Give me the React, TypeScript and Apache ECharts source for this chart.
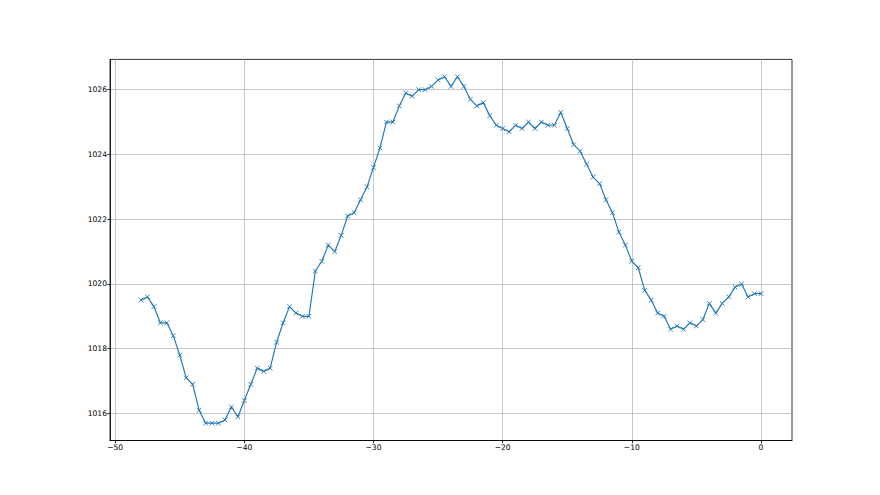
import React, { useEffect, useRef } from "react";
import * as echarts from "echarts";

const xValues = [
  -48, -47.5, -47, -46.5, -46, -45.5, -45, -44.5, -44, -43.5, -43, -42.5, -42, -41.5, -41, -40.5,
  -40, -39.5, -39, -38.5, -38, -37.5, -37, -36.5, -36, -35.5, -35, -34.5, -34, -33.5, -33, -32.5,
  -32, -31.5, -31, -30.5, -30, -29.5, -29, -28.5, -28, -27.5, -27, -26.5, -26, -25.5, -25, -24.5,
  -24, -23.5, -23, -22.5, -22, -21.5, -21, -20.5, -20, -19.5, -19, -18.5, -18, -17.5, -17, -16.5,
  -16, -15.5, -15, -14.5, -14, -13.5, -13, -12.5, -12, -11.5, -11, -10.5, -10, -9.5, -9, -8.5,
  -8, -7.5, -7, -6.5, -6, -5.5, -5, -4.5, -4, -3.5, -3, -2.5, -2, -1.5, -1, -0.5, 0,
];

const yValues = [
  1019.5, 1019.6, 1019.3, 1018.8, 1018.8, 1018.4, 1017.8, 1017.1, 1016.9, 1016.1, 1015.7, 1015.7,
  1015.7, 1015.8, 1016.2, 1015.9,
  1016.4, 1016.9, 1017.4, 1017.3, 1017.4, 1018.2, 1018.8, 1019.3, 1019.1, 1019.0, 1019.0, 1020.4,
  1020.7, 1021.2, 1021.0, 1021.5,
  1022.1, 1022.2, 1022.6, 1023.0, 1023.6, 1024.2, 1025.0, 1025.0, 1025.5, 1025.9, 1025.8, 1026.0,
  1026.0, 1026.1, 1026.3, 1026.4,
  1026.1, 1026.4, 1026.1, 1025.7, 1025.5, 1025.6, 1025.2, 1024.9, 1024.8, 1024.7, 1024.9, 1024.8,
  1025.0, 1024.8, 1025.0, 1024.9,
  1024.9, 1025.3, 1024.8, 1024.3, 1024.1, 1023.7, 1023.3, 1023.1, 1022.6, 1022.2, 1021.6, 1021.2,
  1020.7, 1020.5, 1019.8, 1019.5,
  1019.1, 1019.0, 1018.6, 1018.7, 1018.6, 1018.8, 1018.7, 1018.9, 1019.4, 1019.1, 1019.4, 1019.6,
  1019.9, 1020.0, 1019.6, 1019.7, 1019.7,
];

const xTicks = [-50, -40, -30, -20, -10, 0];
const yTicks = [1016, 1018, 1020, 1022, 1024, 1026];
const xLimits = [-50.4, 2.4];
const yLimits = [1015.165, 1026.935];

const FONT = "DejaVu Sans";
const fmt = (v: number) => String(v).replace("-", "\u2212");

export default function App() {
  const ref = useRef<HTMLDivElement>(null);
  useEffect(() => {
    if (!ref.current) return;
    const chart = echarts.init(ref.current, null, { renderer: "svg" });
    const data = xValues.map((x, i) => [x, yValues[i]]);
    const axisCommon = (ticks: number[]) => ({
      axisLine: { show: true, onZero: false, lineStyle: { color: "#000", width: 0.8 } },
      axisTick: {
        show: true,
        inside: false,
        length: 2.7,
        customValues: ticks,
        lineStyle: { color: "#000", width: 0.8 },
      },
      splitLine: { show: true, lineStyle: { color: "#b0b0b0", width: 0.7 } },
      axisLabel: {
        color: "#000",
        fontFamily: FONT,
        fontSize: 7.6,
        margin: 3,
        customValues: ticks,
        formatter: (v: number) => fmt(v),
      },
    });
    chart.setOption({
      animation: false,
      backgroundColor: "#fff",
      grid: {
        left: 110,
        right: 88,
        top: 59.4,
        bottom: 54.5,
        show: true,
        borderColor: "#000",
        borderWidth: 0.8,
        backgroundColor: "transparent",
      },
      xAxis: {
        type: "value",
        min: xLimits[0],
        max: xLimits[1],
        splitNumber: 5,
        ...axisCommon(xTicks),
      },
      yAxis: {
        type: "value",
        min: yLimits[0],
        max: yLimits[1],
        splitNumber: 5,
        ...axisCommon(yTicks),
      },
      series: [
        {
          type: "line",
          data,
          lineStyle: { color: "#1f77b4", width: 1.15 },
          symbol: "path://M0,0L10,10M10,0L0,10",
          symbolSize: 4.6,
          itemStyle: { color: "none", borderColor: "#1f77b4", borderWidth: 0.9 },
          emphasis: { disabled: true },
        },
      ],
    });
    return () => chart.dispose();
  }, []);
  return <div ref={ref} style={{ width: 880, height: 495, position: "absolute", left: 0, top: 0 }} />;
}
